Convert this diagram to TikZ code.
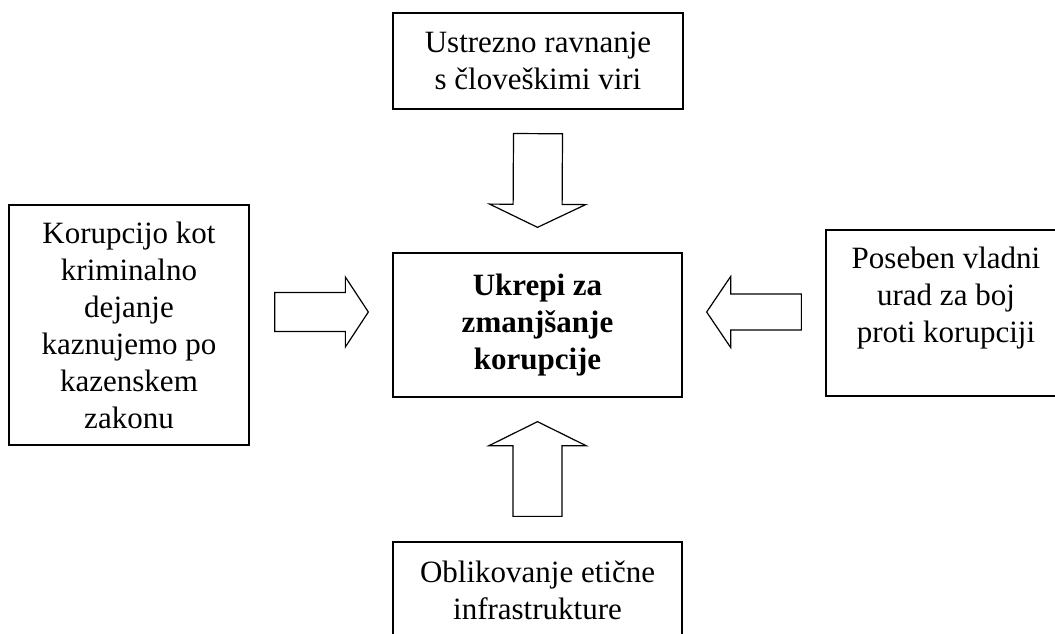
\documentclass[tikz,border=0pt]{standalone}
\usepackage{fontspec}
\setmainfont{Liberation Serif}
\usetikzlibrary{calc}

% hollow block arrow from #1 (tail) to #2 (tip):
% #3 half shaft width, #4 half head width, #5 head length
\newcommand\fatarrow[5]{%
  \coordinate (#1-neck) at ($(#2)!#5!(#1)$);
  \draw[blockarrow]
    ($(#1)!#3!90:(#2)$) -- ($(#1-neck)!#3!-90:(#1)$) --
    ($(#1-neck)!#4!-90:(#1)$) -- (#2) --
    ($(#1-neck)!#4!90:(#1)$) -- ($(#1-neck)!#3!90:(#1)$) --
    ($(#1)!#3!-90:(#2)$) -- cycle;
}

\tikzset{
  box/.style={draw, line width=1.3pt, align=center, inner sep=0pt,
    font=\fontsize{31}{37}\selectfont},
  blockarrow/.style={draw, line width=1.2pt, line join=miter, fill=white},
}

\begin{document}
\begin{tikzpicture}[x=1pt, y=-1pt]
  \clip (0,0) rectangle (1055,634);
  \fill[white] (0,0) rectangle (1055,634);

  \node[box, minimum width=289pt, minimum height=144pt] (core) at (537.5,325)
    {\bfseries Ukrepi za\\\bfseries zmanjšanje\\\bfseries korupcije};
  \node[box, minimum width=290pt, minimum height=96pt] (topbox) at (538,61)
    {Ustrezno ravnanje\\s človeškimi viri};
  \node[box, minimum width=289pt, minimum height=96pt] (botbox) at (537.5,590)
    {Oblikovanje etične\\infrastrukture};
  \node[box, minimum width=240pt, minimum height=240pt] (leftbox) at (129,325)
    {Korupcijo kot\\kriminalno\\dejanje\\kaznujemo po\\kazenskem\\zakonu};
  \node[box, minimum width=240pt, minimum height=166pt] (rightbox) at (946,313)
    {Poseben vladni\\urad za boj\\proti korupciji\\\mbox{}};

  % arrow ends
  \coordinate (up-tail)    at ($(topbox.south)+(0,24)$);
  \coordinate (up-tip)     at ($(core.north)+(0,-25)$);
  \coordinate (down-tail)  at ($(botbox.north)+(0,-25)$);
  \coordinate (down-tip)   at ($(core.south)+(0,24)$);
  \coordinate (left-tail)  at ($(leftbox.east)+(25,-13)$);
  \coordinate (left-tip)   at ($(core.west)+(-24,-13)$);
  \coordinate (right-tail) at ($(rightbox.west)+(-24,-1)$);
  \coordinate (right-tip)  at ($(core.east)+(24,-13)$);

  \fatarrow{up-tail}{up-tip}{24.5pt}{48pt}{23pt}
  \fatarrow{down-tail}{down-tip}{24.5pt}{48.5pt}{24pt}
  \fatarrow{left-tail}{left-tip}{19.5pt}{35pt}{23pt}
  \fatarrow{right-tail}{right-tip}{18pt}{35.5pt}{24pt}
\end{tikzpicture}
\end{document}
